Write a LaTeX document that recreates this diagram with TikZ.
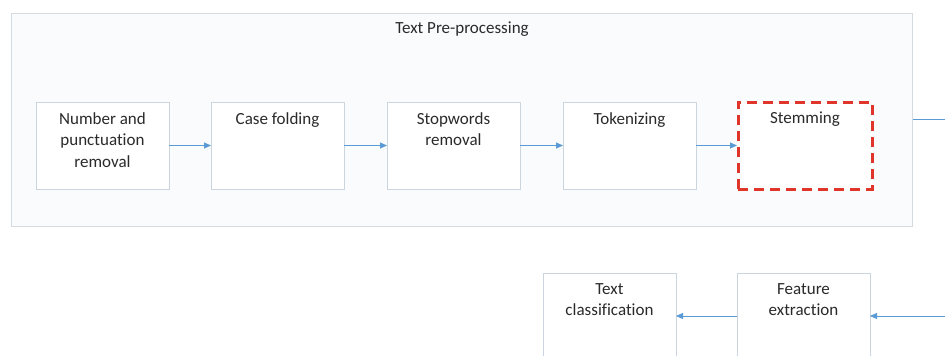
\documentclass[tikz,border=0pt]{standalone}
\usepackage{fontspec}
\setmainfont[Ligatures={NoCommon}]{Carlito}
\usetikzlibrary{arrows.meta}
\definecolor{boxline}{HTML}{CBD5E0}
\definecolor{outerline}{HTML}{D3DAE2}
\definecolor{outerfill}{HTML}{FAFBFC}
\definecolor{arrowblue}{HTML}{5B9BD5}
\definecolor{stemred}{HTML}{E0352B}
\definecolor{txt}{HTML}{2A2A2A}
\tikzset{
  stagebox/.style={draw=boxline, line width=0.8pt, fill=white, minimum width=133pt, minimum height=87pt, inner sep=0pt, outer sep=0pt, anchor=north west},
  redbox/.style={draw=stemred, line width=3pt, dash pattern=on 10pt off 6pt, fill=white, minimum width=134pt, minimum height=87pt, inner sep=0pt, outer sep=0pt, anchor=north west},
  boxtext/.style={anchor=north, text=txt, font=\fontsize{17}{21.5}\selectfont, align=center, inner sep=0pt},
  flow/.style={draw=arrowblue, line width=0.9pt, -{Triangle[length=7pt,width=6pt]}},
  plainflow/.style={draw=arrowblue, line width=0.9pt}
}
\begin{document}
\begin{tikzpicture}[x=1pt,y=1pt]
\useasboundingbox (0,0) rectangle (945,-356);
\clip (0,0) rectangle (945,-356);
\fill[white] (0,0) rectangle (945,-356);
% outer group
\node[draw=outerline, line width=0.8pt, fill=outerfill, minimum width=901pt, minimum height=213pt, inner sep=0pt, anchor=north west] (group) at (11,-13) {};
\node[boxtext] (grouptitle) at (462,-22) {Text Pre-processing};
% top row
\node[stagebox] (b1) at (36,-102) {};
\node[stagebox] (b2) at (211,-102) {};
\node[stagebox] (b3) at (387,-102) {};
\node[stagebox] (b4) at (563,-102) {};
\node[redbox] (b5) at (738,-102) {};
\node[boxtext] (t1) at ([yshift=-10pt]b1.north) {Number and\\punctuation\\removal};
\node[boxtext] (t2) at ([yshift=-10pt]b2.north) {Case folding};
\node[boxtext] (t3) at ([yshift=-10pt]b3.north) {Stopwords\\removal};
\node[boxtext] (t4) at ([yshift=-10pt]b4.north) {Tokenizing};
\node[boxtext] (t5) at ([yshift=-10pt]b5.north) {Stemming};
\draw[flow] (b1.east) -- (b2.west);
\draw[flow] (b2.east) -- (b3.west);
\draw[flow] (b3.east) -- (b4.west);
\draw[flow] (b4.east) -- ([xshift=-1pt]b4.east -| b5.west);
% line leaving the group
\coordinate (outR) at (945,-119);
\draw[plainflow] (group.east |- outR) -- (outR);
% bottom row
\node[stagebox, minimum height=120pt] (c1) at (543,-273) {};
\node[stagebox, minimum height=120pt] (c2) at (737,-273) {};
\node[boxtext] (u1) at ([yshift=-10pt]c1.north) {Text\\classification};
\node[boxtext] (u2) at ([yshift=-10pt]c2.north) {Feature\\extraction};
\coordinate (inR) at (945,-316);
\draw[flow] (c2.west |- inR) -- (c1.east |- inR);
\draw[flow] (inR) -- (c2.east |- inR);
\end{tikzpicture}
\end{document}
